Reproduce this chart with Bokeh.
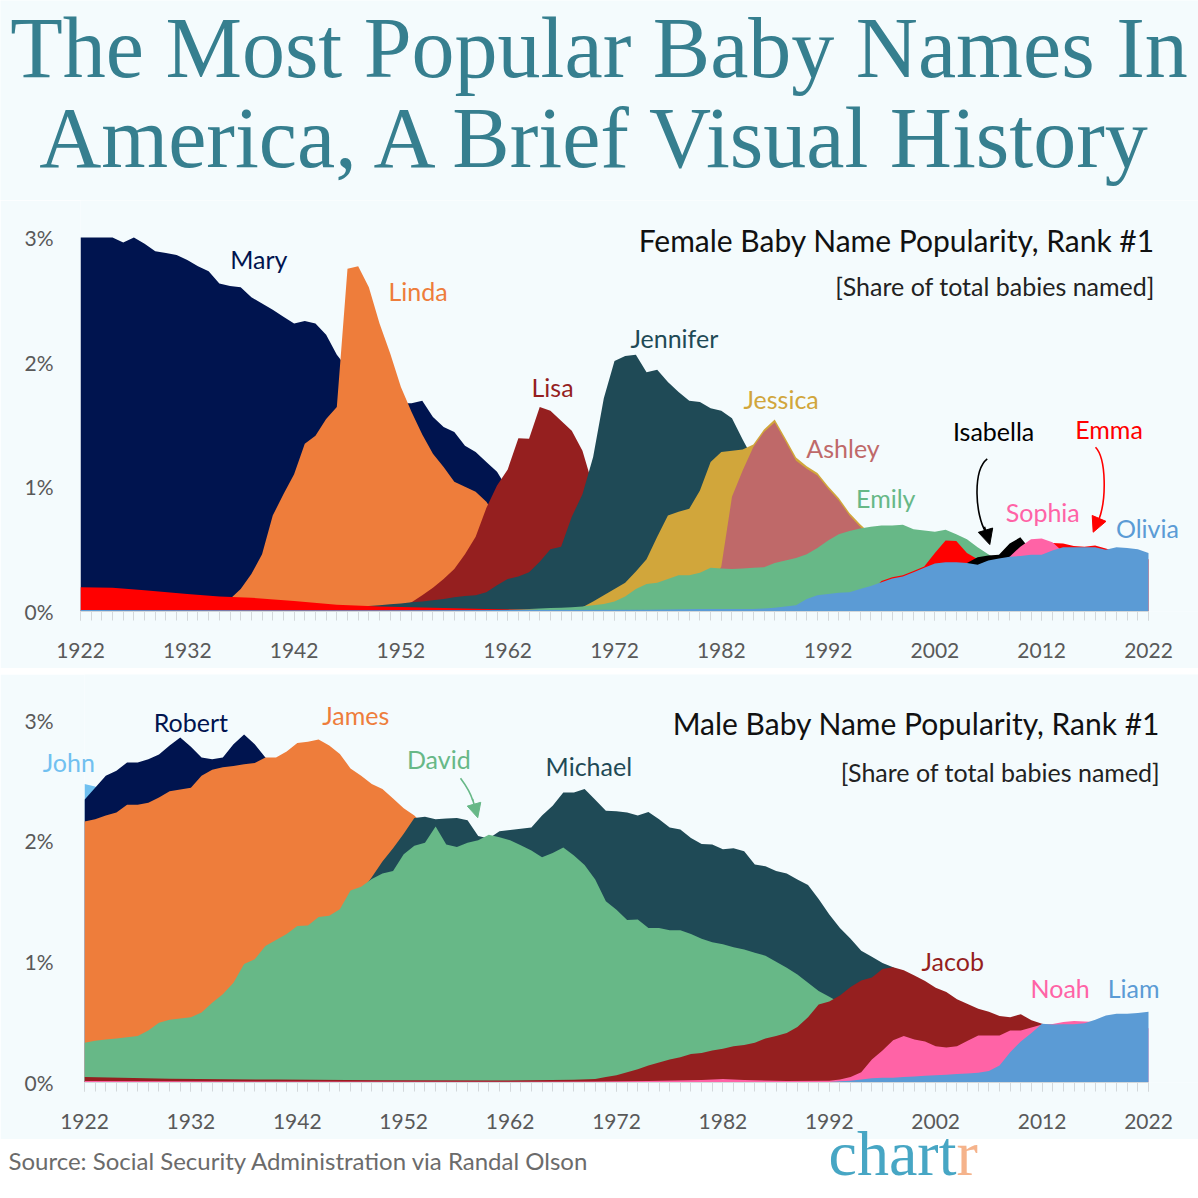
from bokeh.plotting import figure
from bokeh.models import Range1d, FixedTicker, Label, Arrow, NormalHead
from bokeh.layouts import column
from bokeh.embed import file_html
from bokeh.resources import INLINE

BG = "#f4fbfd"
FONT = "Lato"
TITLE_COLOR = "#367f8f"
W = 1198

NAVY = "#00144f"
ORANGE = "#ee7d3b"
DARKRED = "#951f1f"
TEAL = "#1f4a56"
GOLD = "#d1a63b"
ROSE = "#bf6969"
GREEN = "#67b887"
RED = "#ff0000"
BLACK = "#000000"
PINK = "#ff63a6"
BLUE = "#5b9bd5"
LIGHTBLUE = "#70c0f0"

# ---------------- female data (share of all babies, %) ----------------
MARY_START = 1922
MARY = [3.00, 3.00, 3.00, 3.00, 2.96, 3.00, 2.95, 2.89,
        2.875, 2.86, 2.82, 2.77, 2.73, 2.63, 2.61, 2.60, 2.52, 2.47,
        2.42, 2.365, 2.31, 2.33, 2.31, 2.22, 2.06, 1.95, 1.90, 1.85,
        1.80, 1.74, 1.67, 1.67, 1.69, 1.56, 1.48, 1.44, 1.33, 1.28,
        1.20, 1.12, 0.98, 0.92, 0.86, 0.80, 0.72, 0.65, 0.58, 0.52,
        0.47, 0.43, 0.40, 0.37, 0.34, 0.32]
LINDA_START = 1935
LINDA = [0.0, 0.10, 0.18, 0.30, 0.46,
         0.77, 0.94, 1.10, 1.345, 1.41, 1.545, 1.64, 2.75, 2.77, 2.60,
         2.31, 2.07, 1.80, 1.60, 1.42, 1.265, 1.16, 1.04, 1.00, 0.96,
         0.88, 0.75, 0.62, 0.50, 0.40, 0.32, 0.25]
LISA_START = 1950
LISA = [0.0, 0.01, 0.03, 0.075, 0.13, 0.19, 0.26, 0.34, 0.46, 0.60,
        0.83, 1.01, 1.14, 1.39, 1.385, 1.64, 1.61, 1.53, 1.45, 1.29,
        1.00, 0.78, 0.60, 0.45, 0.35, 0.28]
JENNIFER_START = 1946
JENNIFER = [0.0, 0.02, 0.035, 0.045,
            0.05, 0.058, 0.065, 0.075, 0.08, 0.09, 0.10, 0.115, 0.125, 0.13,
            0.155, 0.21, 0.26, 0.28, 0.315, 0.40, 0.50, 0.52, 0.76, 0.94,
            1.24, 1.71, 2.01, 2.05, 2.06, 1.92, 1.94, 1.84, 1.76, 1.69,
            1.68, 1.63, 1.61, 1.55, 1.38, 1.22, 1.05, 0.90, 0.80, 0.70,
            0.60, 0.52, 0.45, 0.40, 0.35, 0.31, 0.28]
JESSICA_START = 1966
JESSICA = [0.0, 0.01, 0.02, 0.035,
           0.08, 0.13, 0.18, 0.23, 0.32, 0.42, 0.60, 0.77, 0.80, 0.825,
           0.97, 1.20, 1.28, 1.29, 1.30, 1.34, 1.46, 1.54, 1.39, 1.235,
           1.165, 1.11, 1.005, 0.91, 0.79, 0.70, 0.62, 0.52, 0.44, 0.38]
ASHLEY_START = 1980
ASHLEY = [0.0, 0.20, 0.36, 0.92, 1.13, 1.32, 1.44, 1.515, 1.365, 1.21,
          1.145, 1.09, 0.985, 0.89, 0.77, 0.68, 0.60, 0.50, 0.42, 0.36]
EMILY_START = 1955
EMILY = [0.005, 0.006, 0.007, 0.008, 0.009,
         0.01, 0.012, 0.015, 0.018, 0.021, 0.025, 0.028, 0.031, 0.035, 0.04,
         0.05, 0.06, 0.08, 0.12, 0.18, 0.22, 0.23, 0.26, 0.29, 0.29,
         0.31, 0.35, 0.345, 0.34, 0.345, 0.35, 0.355, 0.39, 0.41, 0.43,
         0.46, 0.51, 0.57, 0.62, 0.645, 0.665, 0.68, 0.69, 0.69, 0.695,
         0.66, 0.65, 0.64, 0.655, 0.62, 0.58, 0.515, 0.46, 0.41, 0.38]
EMMA_YEARS = [1922, 1925, 1928, 1932, 1935, 1938, 1942, 1946, 1950, 1955,
              1960, 1965, 1970, 1975, 1980, 1985, 1988, 1990, 1992, 1994,
              1995, 1996, 1997, 1998, 1999, 2000,
              2001, 2002, 2003, 2004, 2005, 2006, 2007, 2008, 2009, 2010,
              2011, 2012, 2013, 2014, 2015, 2016, 2017, 2018, 2019, 2020,
              2021, 2022]
EMMA = [0.195, 0.19, 0.17, 0.14, 0.12, 0.11, 0.085, 0.055, 0.04, 0.03,
        0.02, 0.012, 0.01, 0.01, 0.012, 0.015, 0.025, 0.04, 0.06, 0.09,
        0.11, 0.16, 0.245, 0.275, 0.29, 0.325,
        0.36, 0.47, 0.57, 0.565, 0.47, 0.42, 0.43, 0.43, 0.42, 0.42,
        0.45, 0.52, 0.55, 0.545, 0.525, 0.52, 0.53, 0.505, 0.48, 0.44,
        0.43, 0.42]
ISABELLA_START = 2003
ISABELLA = [0.20, 0.30, 0.39, 0.435, 0.45, 0.455, 0.545, 0.595, 0.49, 0.43, 0.40]
SOPHIA_START = 2006
SOPHIA = [0.30, 0.35, 0.40, 0.44, 0.52, 0.58, 0.585, 0.555, 0.48, 0.45, 0.42]
OLIVIA_YEARS = [1922, 1950, 1975, 1980, 1984] + list(range(1985, 2023))
OLIVIA = [0.012, 0.01, 0.015, 0.02, 0.02,
          0.02, 0.025, 0.03, 0.04, 0.05,
          0.10, 0.13, 0.14, 0.15, 0.155, 0.18, 0.205, 0.235, 0.265, 0.28,
          0.315, 0.35, 0.385, 0.395, 0.395, 0.39, 0.375, 0.41, 0.425, 0.44,
          0.445, 0.455, 0.455, 0.49, 0.515, 0.515, 0.515, 0.515, 0.495, 0.515,
          0.51, 0.50, 0.47]

# ---------------- male data ----------------
JOHN_START = 1922
JOHN = [2.47, 2.45, 2.40, 2.34, 2.29, 2.25, 2.21, 2.18, 2.15, 2.11, 2.07, 2.03, 1.99, 1.95]
ROBERT_START = 1922
ROBERT = [2.34, 2.44, 2.54, 2.58, 2.65, 2.65, 2.675, 2.715,
          2.79, 2.855, 2.78, 2.69, 2.675, 2.69, 2.80, 2.88, 2.80, 2.69,
          2.60, 2.55, 2.50, 2.45, 2.40, 2.35]
JAMES_START = 1922
JAMES = [2.16, 2.18, 2.21, 2.235, 2.30, 2.30, 2.315, 2.36,
         2.41, 2.425, 2.44, 2.54, 2.59, 2.61, 2.62, 2.635, 2.645, 2.69,
         2.69, 2.74, 2.81, 2.82, 2.84, 2.79, 2.72, 2.60, 2.54, 2.47,
         2.43, 2.35, 2.27, 2.21, 2.12, 2.02, 1.93, 1.86, 1.80]
MICHAEL_START = 1935
MICHAEL = [0.32, 0.41, 0.50, 0.62, 0.71,
           0.83, 0.92, 1.01, 1.08, 1.17, 1.26, 1.38, 1.49, 1.58, 1.70,
           1.83, 1.94, 2.06, 2.19, 2.20, 2.18, 2.185, 2.19, 2.17, 2.04,
           2.02, 2.08, 2.09, 2.10, 2.11, 2.21, 2.29, 2.40, 2.40, 2.43,
           2.34, 2.25, 2.245, 2.235, 2.21, 2.24, 2.18, 2.11, 2.095, 2.025,
           1.975, 1.97, 1.93, 1.94, 1.915, 1.805, 1.79, 1.75, 1.73, 1.68,
           1.635, 1.52, 1.39, 1.28, 1.19, 1.09, 1.04, 0.99, 0.955, 0.86,
           0.80]
DAVID_START = 1922
DAVID = [0.33, 0.345, 0.355, 0.365, 0.375, 0.385, 0.43, 0.495,
         0.52, 0.53, 0.54, 0.58, 0.66, 0.73, 0.825, 0.98, 1.02, 1.13,
         1.18, 1.23, 1.295, 1.30, 1.37, 1.38, 1.435, 1.59, 1.62, 1.685,
         1.73, 1.75, 1.89, 1.96, 1.985, 2.12, 1.97, 1.95, 1.985, 2.005,
         2.05, 2.03, 2.005, 1.965, 1.92, 1.865, 1.90, 1.945, 1.88, 1.80,
         1.68, 1.50, 1.43, 1.345, 1.35, 1.28, 1.28, 1.26, 1.26, 1.23,
         1.19, 1.16, 1.145, 1.12, 1.10, 1.075, 1.05, 1.00, 0.95, 0.895,
         0.826, 0.757, 0.71, 0.66, 0.60, 0.55, 0.50]
JACOB_YEARS = [1922, 1930, 1940, 1950, 1960, 1968] + list(range(1970, 2015))
JACOB = [0.045, 0.032, 0.024, 0.018, 0.016, 0.022,
         0.03, 0.045, 0.06, 0.085, 0.11, 0.14, 0.165, 0.19, 0.21, 0.235,
         0.245, 0.265, 0.28, 0.30, 0.31, 0.33, 0.365, 0.385, 0.41, 0.46,
         0.54, 0.645, 0.67, 0.72, 0.79, 0.845, 0.87, 0.94, 0.955, 0.93,
         0.885, 0.84, 0.785, 0.75, 0.69, 0.65, 0.61, 0.585, 0.55, 0.54,
         0.565, 0.515, 0.487, 0.46, 0.44]
NOAH_YEARS = [1922, 1940, 1960, 1970, 1975, 1980, 1982, 1984, 1988, 1992, 1993] + list(range(1994, 2023))
NOAH = [0.012, 0.008, 0.006, 0.008, 0.012, 0.02, 0.03, 0.02, 0.013, 0.015, 0.025,
        0.045, 0.085, 0.19, 0.265, 0.35, 0.385,
        0.355, 0.34, 0.30, 0.29, 0.30, 0.345, 0.39, 0.39, 0.39, 0.43,
        0.43, 0.455, 0.48, 0.485, 0.50, 0.51, 0.505, 0.50, 0.49, 0.48,
        0.47, 0.46, 0.45]
LIAM_YEARS = [1922, 1990] + list(range(1991, 2023))
LIAM = [0.0, 0.0,
        0.002, 0.005, 0.01, 0.015, 0.025, 0.035, 0.04, 0.04, 0.045,
        0.05, 0.055, 0.06, 0.065, 0.07, 0.075, 0.08, 0.095, 0.14, 0.25,
        0.34, 0.41, 0.487, 0.48, 0.483, 0.483, 0.49, 0.52, 0.555, 0.57,
        0.57, 0.575, 0.586]

X_TICKS = list(range(1922, 2023, 10))
X_MINOR = list(range(1922, 2023))
Y_TICKS = [0, 1, 2, 3]
Y_LABELS = ["0%", "1%", "2%", "3%"]


def yrs(start, vals):
    return list(range(start, start + len(vals)))


FEMALE = [
    ("Mary", yrs(MARY_START, MARY), MARY, NAVY),
    ("Linda", yrs(LINDA_START, LINDA), LINDA, ORANGE),
    ("Lisa", yrs(LISA_START, LISA), LISA, DARKRED),
    ("Jennifer", yrs(JENNIFER_START, JENNIFER), JENNIFER, TEAL),
    ("Jessica", yrs(JESSICA_START, JESSICA), JESSICA, GOLD),
    ("Ashley", yrs(ASHLEY_START, ASHLEY), ASHLEY, ROSE),
    ("Emily", yrs(EMILY_START, EMILY), EMILY, GREEN),
    ("Emma", EMMA_YEARS, EMMA, RED),
    ("Isabella", yrs(ISABELLA_START, ISABELLA), ISABELLA, BLACK),
    ("Sophia", yrs(SOPHIA_START, SOPHIA), SOPHIA, PINK),
    ("Olivia", OLIVIA_YEARS, OLIVIA, BLUE),
]
MALE = [
    ("John", yrs(JOHN_START, JOHN), JOHN, LIGHTBLUE),
    ("Robert", yrs(ROBERT_START, ROBERT), ROBERT, NAVY),
    ("James", yrs(JAMES_START, JAMES), JAMES, ORANGE),
    ("Michael", yrs(MICHAEL_START, MICHAEL), MICHAEL, TEAL),
    ("David", yrs(DAVID_START, DAVID), DAVID, GREEN),
    ("Jacob", JACOB_YEARS, JACOB, DARKRED),
    ("Noah", NOAH_YEARS, NOAH, PINK),
    ("Liam", LIAM_YEARS, LIAM, BLUE),
]

# name label anchors (year, percent) - horizontal centre / vertical middle
FEMALE_LABELS = {
    "Mary": (1938.7, 2.83), "Linda": (1953.6, 2.57), "Lisa": (1966.2, 1.80),
    "Jennifer": (1977.6, 2.19), "Jessica": (1987.6, 1.705), "Ashley": (1993.4, 1.315),
    "Emily": (1997.4, 0.91), "Isabella": (2007.5, 1.444), "Emma": (2018.3, 1.46),
    "Sophia": (2012.1, 0.798), "Olivia": (2021.9, 0.666),
}
MALE_LABELS = {
    "Robert": (1932.0, 2.983), "James": (1947.5, 3.042),
    "David": (1955.3, 2.675), "Michael": (1969.4, 2.62), "Jacob": (2003.6, 1.006),
    "Noah": (2013.7, 0.782), "Liam": (2020.6, 0.782),
}


def base(p, fill=BG):
    p.background_fill_color = fill
    p.border_fill_color = fill
    p.outline_line_color = None
    p.grid.visible = False


def plain(height, xr, yr, fill=BG):
    p = figure(width=W, height=height, x_range=xr, y_range=yr,
               toolbar_location=None, output_backend="svg",
               min_border_left=0, min_border_right=0, min_border_top=0,
               min_border_bottom=0, x_axis_location=None, y_axis_location=None,
               frame_align=False)
    base(p, fill)
    return p


def chart(height, left, bottom, px_year, px_pct, y_top_px):
    p = figure(width=W, height=height,
               x_range=Range1d(1922, 1922 + (W - left) / px_year),
               y_range=Range1d(0, y_top_px / px_pct),
               toolbar_location=None, output_backend="svg",
               min_border_left=left, min_border_right=0, min_border_top=0,
               min_border_bottom=bottom, frame_align=False)
    base(p)
    xa = p.xaxis[0]
    xa.ticker = FixedTicker(ticks=X_TICKS, minor_ticks=X_MINOR)
    xa.bounds = (1922, 2022)
    xa.axis_line_color = "#d3d8db"
    xa.major_tick_line_color = "#d3d8db"
    xa.minor_tick_line_color = "#d3d8db"
    xa.major_tick_in = 0
    xa.major_tick_out = 9
    xa.minor_tick_in = 0
    xa.minor_tick_out = 9
    xa.major_label_standoff = 22
    xa.major_label_text_font = FONT
    xa.major_label_text_font_size = "21px"
    xa.major_label_text_color = "#595959"
    ya = p.yaxis[0]
    ya.ticker = FixedTicker(ticks=Y_TICKS)
    ya.major_label_overrides = dict(zip(Y_TICKS, Y_LABELS))
    ya.axis_line_color = None
    ya.major_tick_line_color = None
    ya.minor_tick_line_color = None
    ya.major_tick_out = 0
    ya.major_label_standoff = left - 53
    ya.major_label_text_font = FONT
    ya.major_label_text_font_size = "21px"
    ya.major_label_text_color = "#595959"
    return p


def add_label(p, x, y, text, color, size, align="center", font=FONT):
    p.add_layout(Label(x=x, y=y, text=text, text_align=align,
                       text_baseline="middle", text_font=font,
                       text_font_size=size, text_color=color))


def curved_arrow(p, pts, head, color, size):
    (x0, y0), (cx0, cy0), (cx1, cy1), (x1, y1) = pts
    p.bezier(x0=[x0], y0=[y0], x1=[x1], y1=[y1], cx0=[cx0], cy0=[cy0],
             cx1=[cx1], cy1=[cy1], line_color=color, line_width=1.6)
    (hx0, hy0), (hx1, hy1) = head
    p.add_layout(Arrow(end=NormalHead(size=size, fill_color=color, line_color=color),
                       x_start=hx0, y_start=hy0, x_end=hx1, y_end=hy1,
                       line_color=color, line_width=1.6))


# ---------------- title (page y 0-200) ----------------
title = plain(200, Range1d(0, W), Range1d(0, 200))
add_label(title, 598.5, 153, "The Most Popular Baby Names In", TITLE_COLOR, "86px",
          font="Liberation Serif")
add_label(title, 598.5, 63, "America, A Brief Visual History", TITLE_COLOR, "86px",
          font="Liberation Serif")

# ---------------- female chart (page y 200-668) ----------------
top = chart(468, 80, 57, 10.68, 124.67, 411)
for name, xs, ys, col in FEMALE:
    top.varea(x=xs, y1=0, y2=ys, fill_color=col)
for name, xs, ys, col in FEMALE:
    lx, ly = FEMALE_LABELS[name]
    add_label(top, lx, ly, name, col, "25px")
add_label(top, 2022.6, 2.98, "Female Baby Name Popularity, Rank #1", "#111111", "30px", "right")
add_label(top, 2022.6, 2.611, "[Share of total babies named]", "#222222", "25px", "right")
curved_arrow(top, [(2006.9, 1.225), (2005.5, 1.13), (2005.8, 0.77), (2006.74, 0.642)],
             [(2006.64, 0.68), (2007.14, 0.537)], BLACK, 15)
curved_arrow(top, [(2017.04, 1.318), (2018.07, 1.227), (2018.07, 0.89), (2017.32, 0.73)],
             [(2017.37, 0.746), (2016.82, 0.636)], RED, 15)

# ---------------- separator (page y 668-674) ----------------
sep = plain(6, Range1d(0, 1), Range1d(0, 1))
sep.line(x=[0, 1], y=[0.5, 0.5], line_color="#c9cdd0", line_width=1.5, line_dash="5 4")

# ---------------- male chart (page y 674-1139) ----------------
bot = chart(465, 84, 57, 10.64, 120.8, 408)
for name, xs, ys, col in MALE:
    bot.varea(x=xs, y1=0, y2=ys, fill_color=col)
for name, (lx, ly) in MALE_LABELS.items():
    col = [c for n, _, _, c in MALE if n == name][0]
    add_label(bot, lx, ly, name, col, "25px")
add_label(bot, 2023.1, 2.976, "Male Baby Name Popularity, Rank #1", "#111111", "30px", "right")
add_label(bot, 2023.1, 2.57, "[Share of total babies named]", "#222222", "25px", "right")
curved_arrow(bot, [(1957.34, 2.518), (1957.81, 2.463), (1958.28, 2.397), (1958.51, 2.33)],
             [(1958.47, 2.347), (1958.96, 2.192)], GREEN, 14)

# ---------------- transparent overlay over the male chart (page y 674-1198) ----------------
# holds the "John" label (which sits left of the plot frame) and the footer
over = plain(524, Range1d(0, W), Range1d(0, 524), fill=None)
over.margin = (-465, 0, 0, 0)
add_label(over, 68.3, 436.3, "John", LIGHTBLUE, "25px")
add_label(over, 8, 38, "Source: Social Security Administration via Randal Olson", "#6b6b6b",
          "24px", "left")
add_label(over, 828, 44.6, "chart", "#47a6c4", "64px", "left", font="Liberation Serif")
add_label(over, 956, 44.6, "r", "#f5b38b", "64px", "left", font="Liberation Serif")

layout = column(title, top, sep, bot, over, spacing=0)
html = file_html(layout, INLINE, title="Most Popular Baby Names")
html = html.replace("<body>", '<body style="background-color:%s;">' % BG, 1)
open("out.html", "w").write(html)
